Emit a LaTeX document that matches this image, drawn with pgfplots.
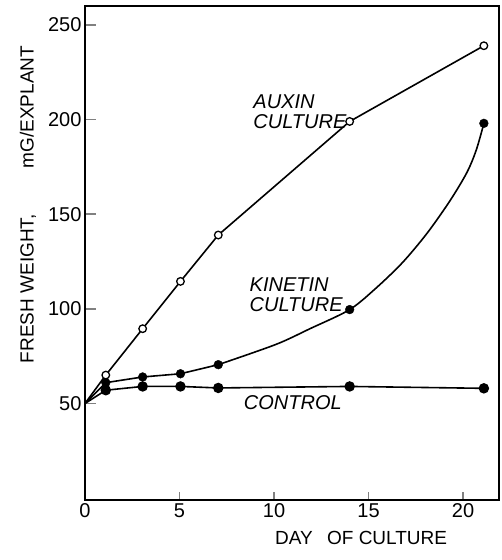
\documentclass[border=0pt]{standalone}
\usepackage{fontspec}
\setmainfont{Liberation Sans}
\usepackage{pgfplots}
\pgfplotsset{compat=1.18}

\begin{document}
\begin{tikzpicture}
\useasboundingbox (-85pt,-60pt) rectangle (417pt,500pt);
\begin{axis}[
  at={(0,0)}, anchor=south west,
  scale only axis,
  width=414pt, height=494pt,
  xmin=0, xmax=21.9,
  ymin=-1, ymax=260,
  xtick={0,5,10,15,20},
  ytick={50,100,150,200,250},
  xtick pos=bottom, ytick pos=left,
  tick align=inside,
  x tick style={line width=1.5pt, /pgfplots/major tick length=8pt},
  y tick style={line width=1.5pt, /pgfplots/major tick length=11pt},
  axis line style={line width=1.7pt},
  /pgf/number format/assume math mode=true,
  tick label style={font=\fontsize{20}{24}\selectfont},
  label style={font=\fontsize{19}{23}\selectfont},
  xlabel={DAY\hspace{9pt} OF CULTURE},
  xlabel style={at={(axis description cs:0.667,-0.076)}, anchor=center},
  ylabel={FRESH WEIGHT,\hspace{46pt}mG/EXPLANT},
  ylabel style={at={(axis description cs:-0.138,0.598)}, anchor=center},
  clip=false,
]
% auxin culture
\addplot[line width=1.6pt, mark=*, mark indices={2,3,4,5,6,7},
  mark options={fill=white, line width=1.3pt}, mark size=3.8pt]
  coordinates {(0,50) (1.1,65) (3.05,89.5) (5.05,114.5) (7.05,139) (14,199) (21.1,239)};
% kinetin culture: early straight part, then the curve as traced
\addplot[line width=1.6pt, no marks]
  coordinates {(0,50) (1.1,61) (3.05,64) (5.05,65.7) (7.05,70.5)};
\addplot[line width=1.6pt, smooth, tension=0.5, no marks]
  coordinates {(7.05,70.5) (10.1,81.2) (11.9,89.5) (14,99.6) (15.4,111)
               (16.8,124.5) (18.1,140) (19.3,157) (20.2,172) (20.7,184) (21.1,198)};
\addplot[only marks, mark=*, mark options={fill=black}, mark size=4.4pt]
  coordinates {(1.1,61) (3.05,64) (5.05,65.7) (7.05,70.5) (14,99.6) (21.1,198)};
% control
\addplot[line width=1.6pt, mark=*, mark indices={2,3,4,5,6,7},
  mark options={fill=black}, mark size=4.4pt]
  coordinates {(0,50) (1.1,57) (3.05,59) (5.05,59) (7.05,58.2) (14,59) (21.1,58)};

\begin{scope}[every node/.style={anchor=west, inner sep=0pt, font=\fontsize{20}{24}\selectfont\itshape}]
\node at (axis cs:8.9,209.5) {AUXIN};
\node at (axis cs:8.9,199) {CULTURE};
\node at (axis cs:8.7,113) {KINETIN};
\node at (axis cs:8.7,102.4) {CULTURE};
\node at (axis cs:8.4,50.3) {CONTROL};
\end{scope}
\end{axis}
\end{tikzpicture}
\end{document}
